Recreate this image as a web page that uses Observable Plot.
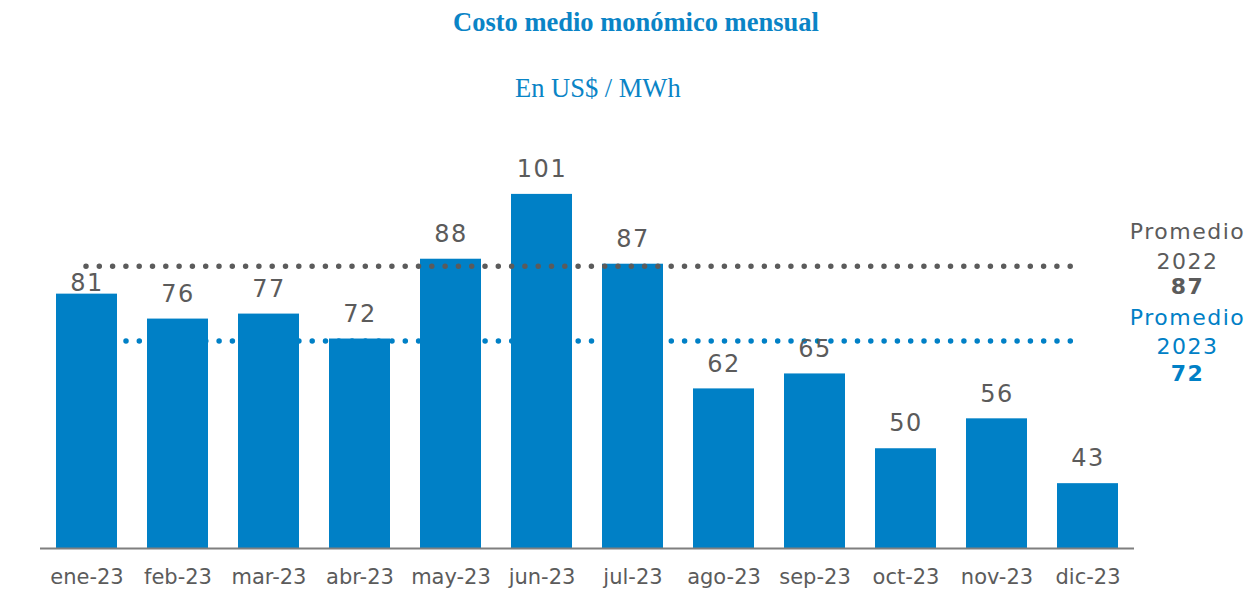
<!DOCTYPE html>
<html>
<head>
<meta charset="utf-8">
<script src="https://cdn.jsdelivr.net/npm/d3@7"></script>
<script src="https://cdn.jsdelivr.net/npm/@observablehq/plot@0.6"></script>
<style>
  body { margin: 0; background: #fff; width: 1259px; height: 599px; overflow: hidden; }
  #header { position: relative; height: 110px; }
  #title { position: absolute; top: 9px; left: 453px; font: bold 26.5px "Liberation Serif", serif; line-height: 1; color: #0a84c6; white-space: nowrap; }
  #subtitle { position: absolute; top: 75px; left: 515px; font: 26.5px "Liberation Serif", serif; line-height: 1; color: #0a84c6; white-space: nowrap; }
  #chart svg { display: block; }
</style>
</head>
<body>
<div id="header">
  <div id="title">Costo medio monómico mensual</div>
  <div id="subtitle">En US$ / MWh</div>
</div>
<div id="chart"></div>
<script>
const months = ["ene-23","feb-23","mar-23","abr-23","may-23","jun-23","jul-23","ago-23","sep-23","oct-23","nov-23","dic-23"];
const costs = [81, 76, 77, 72, 88, 101, 87, 62, 65, 50, 56, 43];
const avgYears = ["2022", "2023"];
const avgValues = [87, 72];

const data = months.map((m, i) => ({month: m, value: costs[i]}));
const avg22 = [{year: avgYears[0], value: avgValues[0]}];
const avg23 = [{year: avgYears[1], value: avgValues[1]}];

const blue = "#0080c6";
const gray = "#5b5b5b";

const chart = Plot.plot({
  width: 1259,
  height: 489,
  marginLeft: 40,
  marginRight: 125,
  marginTop: 39,
  marginBottom: 51,
  style: {color: gray, fontFamily: "'DejaVu Sans', Verdana, sans-serif", background: "white"},
  x: {domain: months, paddingInner: 0.33, paddingOuter: 0.17, label: null},
  y: {domain: [30, 110], axis: null},
  marks: [
    Plot.barY(data, {x: "month", y1: 30, y2: "value", fill: blue}),
    Plot.ruleY([30], {stroke: "#7f7f7f", strokeWidth: 2}),
    Plot.ruleY(avg22, {y: "value", dy: 2, insetLeft: 46, insetRight: 52, stroke: gray, strokeWidth: 5.5, strokeLinecap: "round", strokeDasharray: "0 13.3"}),
    Plot.ruleY(avg23, {y: "value", dy: 2, insetLeft: 86, insetRight: 52, stroke: blue, strokeWidth: 5.5, strokeLinecap: "round", strokeDasharray: "0 13.3"}),
    Plot.text(data.filter(d => d.month === "ene-23"), {x: "month", y: "value", text: d => String(d.value), dy: -11, fontSize: 24, fill: gray}),
    Plot.text(data.filter(d => d.month !== "ene-23"), {x: "month", y: "value", text: d => String(d.value), dy: -25, fontSize: 24, fill: gray}),
    Plot.text(avg22, {y: "value", frameAnchor: "right", dx: 53, textAnchor: "middle", text: d => "Promedio\n" + d.year, lineHeight: 1.32, dy: -19.5, fontSize: 22, fill: gray}),
    Plot.text(avg22, {y: "value", frameAnchor: "right", dx: 53, textAnchor: "middle", text: d => String(d.value), dy: 23, fontSize: 22, fontWeight: "bold", fill: gray}),
    Plot.text(avg23, {y: "value", frameAnchor: "right", dx: 53, textAnchor: "middle", text: d => "Promedio\n" + d.year, lineHeight: 1.32, dy: -8.5, fontSize: 22, fill: blue}),
    Plot.text(avg23, {y: "value", frameAnchor: "right", dx: 53, textAnchor: "middle", text: d => String(d.value), dy: 35, fontSize: 22, fontWeight: "bold", fill: blue}),
    Plot.axisX({tickSize: 0, tickPadding: 21, fontSize: 21, label: null, color: gray})
  ]
});
// letter spacing on value and average labels
chart.querySelectorAll("g[aria-label='text'] text").forEach(t => t.style.letterSpacing = "1.5px");
document.getElementById("chart").appendChild(chart);
</script>
</body>
</html>
